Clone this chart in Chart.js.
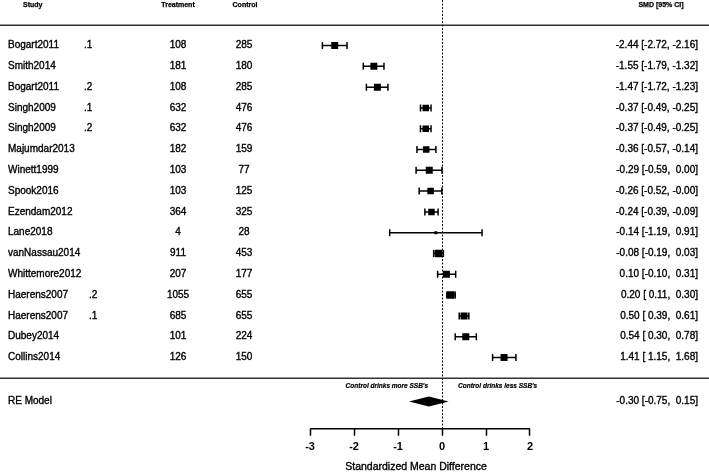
<!DOCTYPE html>
<html>
<head>
<meta charset="utf-8">
<script src="https://cdn.jsdelivr.net/npm/chart.js@4"></script>
<style>
  html, body { margin: 0; padding: 0; background: #fff; }
  canvas { display: block; }
</style>
</head>
<body>
<canvas id="forest" width="709" height="475"></canvas>
<script>
// =====================================================
// DATA
// =====================================================
const studies = ["Bogart2011", "Smith2014", "Bogart2011", "Singh2009", "Singh2009", "Majumdar2013",
    "Winett1999", "Spook2016", "Ezendam2012", "Lane2018", "vanNassau2014", "Whittemore2012",
    "Haerens2007", "Haerens2007", "Dubey2014", "Collins2014"];
const subLabels = [".1", "", ".2", ".1", ".2", "", "", "", "", "", "", "", ".2", ".1", "", ""];
const treatmentN = [108, 181, 108, 632, 632, 182, 103, 103, 364, 4, 911, 207, 1055, 685, 101, 126];
const controlN = [285, 180, 285, 476, 476, 159, 77, 125, 325, 28, 453, 177, 655, 655, 224, 150];
const smd = [-2.44, -1.55, -1.47, -0.37, -0.37, -0.36, -0.29, -0.26, -0.24, -0.14, -0.08, 0.10, 0.20, 0.50, 0.54, 1.41];
const ciLow = [-2.72, -1.79, -1.72, -0.49, -0.49, -0.57, -0.59, -0.52, -0.39, -1.19, -0.19, -0.10, 0.11, 0.39, 0.30, 1.15];
const ciHigh = [-2.16, -1.32, -1.23, -0.25, -0.25, -0.14, 0.00, -0.004, -0.09, 0.91, 0.03, 0.31, 0.30, 0.61, 0.78, 1.68];
// relative study weights (square size)
const weights = [7, 7, 7, 6.5, 6.5, 6.5, 7, 6.5, 6.5, 3, 7.5, 7, 7.5, 7, 7, 7];
const xTicks = [-3, -2, -1, 0, 1, 2];

const reLabel = "RE Model";
const reEst = -0.30, reLow = -0.75, reHigh = 0.15;

const FONT = "'Liberation Sans', Arial, sans-serif";
const RE_ROW = studies.length + 1.12;

function fmt(v) {
    return v.toFixed(2).padStart(5, " ");
}
function ciText(e, lo, hi) {
    return e.toFixed(2) + " [" + fmt(lo) + ", " + fmt(hi) + "]";
}
// slightly heavier text, like the reference render
function heavyText(ctx, t, x, y) {
    ctx.fillText(t, x, y);
    ctx.strokeText(t, x, y);
}

// =====================================================
// PLUGIN: whiskers, diamond, reference line, table text
// =====================================================
const forestPlugin = {
    id: 'forest',
    beforeDatasetsDraw(chart) {
        const { ctx, chartArea, scales: { x, y } } = chart;
        ctx.save();

        // null line
        ctx.strokeStyle = '#000';
        ctx.lineWidth = 1;
        ctx.setLineDash([2, 1.5]);
        ctx.beginPath();
        ctx.moveTo(x.getPixelForValue(0) + 0.5, chartArea.top);
        ctx.lineTo(x.getPixelForValue(0) + 0.5, chartArea.bottom);
        ctx.stroke();
        ctx.setLineDash([]);

        // CI whiskers
        ctx.lineWidth = 1.5;
        studies.forEach((s, i) => {
            const py = y.getPixelForValue(i);
            const x1 = x.getPixelForValue(ciLow[i]);
            const x2 = x.getPixelForValue(ciHigh[i]);
            ctx.beginPath();
            ctx.moveTo(x1, py);
            ctx.lineTo(x2, py);
            ctx.moveTo(x1, py - 3.5);
            ctx.lineTo(x1, py + 3.5);
            ctx.moveTo(x2, py - 3.5);
            ctx.lineTo(x2, py + 3.5);
            ctx.stroke();
        });

        // horizontal rules
        ctx.strokeStyle = '#333';
        ctx.lineWidth = 1.5;
        [-1, studies.length].forEach(r => {
            const py = Math.round(y.getPixelForValue(r)) + 0.25;
            ctx.beginPath();
            ctx.moveTo(chartArea.left, py);
            ctx.lineTo(chartArea.right, py);
            ctx.stroke();
        });

        // axis line between first and last tick
        ctx.strokeStyle = '#000';
        ctx.beginPath();
        ctx.moveTo(x.getPixelForValue(xTicks[0]), chartArea.bottom);
        ctx.lineTo(x.getPixelForValue(xTicks[xTicks.length - 1]), chartArea.bottom);
        ctx.stroke();

        // summary diamond
        const dy = y.getPixelForValue(RE_ROW);
        ctx.fillStyle = '#000';
        ctx.beginPath();
        ctx.moveTo(x.getPixelForValue(reLow), dy);
        ctx.lineTo(x.getPixelForValue(reEst), dy - 5);
        ctx.lineTo(x.getPixelForValue(reHigh), dy);
        ctx.lineTo(x.getPixelForValue(reEst), dy + 5);
        ctx.closePath();
        ctx.fill();
        ctx.restore();
    },
    afterDraw(chart) {
        const { ctx, chartArea, scales: { x, y } } = chart;
        ctx.save();
        ctx.fillStyle = '#000';
        ctx.strokeStyle = '#000';
        ctx.lineWidth = 0.35;
        ctx.textBaseline = 'middle';

        // headers
        const hy = 5.5;
        ctx.font = "bold 7px " + FONT;
        ctx.lineWidth = 0.25;
        ctx.textAlign = 'left';
        heavyText(ctx, "Study", 23, hy);
        ctx.textAlign = 'center';
        heavyText(ctx, "Treatment", 178, hy);
        heavyText(ctx, "Control", 245, hy);
        heavyText(ctx, "SMD [95% CI]", 661, hy);

        // study rows
        ctx.lineWidth = 0.35;
        ctx.font = "10px " + FONT;
        studies.forEach((s, i) => {
            const py = y.getPixelForValue(i);
            ctx.textAlign = 'left';
            heavyText(ctx, s, 8, py);
            if (subLabels[i]) heavyText(ctx, subLabels[i], s.startsWith("Haerens") ? 89 : 84, py);
            ctx.textAlign = 'center';
            heavyText(ctx, String(treatmentN[i]), 178, py);
            heavyText(ctx, String(controlN[i]), 244, py);
            ctx.textAlign = 'right';
            heavyText(ctx, ciText(smd[i], ciLow[i], ciHigh[i]), 698, py);
        });

        // RE model row
        const ry = y.getPixelForValue(RE_ROW);
        ctx.textAlign = 'left';
        heavyText(ctx, reLabel, 8, ry);
        ctx.textAlign = 'right';
        heavyText(ctx, ciText(reEst, reLow, reHigh), 698, ry);

        // direction labels
        const zx = x.getPixelForValue(0);
        const ly = y.getPixelForValue(studies.length + 0.38);
        ctx.font = "italic bold 6.5px " + FONT;
        ctx.lineWidth = 0.2;
        ctx.textAlign = 'right';
        heavyText(ctx, "Control drinks more SSB's", zx - 14, ly);
        ctx.textAlign = 'left';
        heavyText(ctx, "Control drinks less SSB's", zx + 16, ly);

        // axis title
        ctx.font = "10.5px " + FONT;
        ctx.lineWidth = 0.35;
        ctx.textAlign = 'center';
        const cx = (x.getPixelForValue(xTicks[0]) + x.getPixelForValue(xTicks[xTicks.length - 1])) / 2;
        heavyText(ctx, "Standardized Mean Difference", cx - 4, 467);
        ctx.restore();
    }
};

// =====================================================
// CHART
// =====================================================
new Chart(document.getElementById('forest'), {
    type: 'scatter',
    data: {
        datasets: [{
            data: smd.map((v, i) => ({ x: v, y: i })),
            pointStyle: 'rect',
            pointRadius: weights.map(w => w / Math.SQRT2),
            backgroundColor: '#000',
            borderWidth: 0
        }]
    },
    options: {
        responsive: false,
        animation: false,
        devicePixelRatio: 1,
        layout: { autoPadding: false, padding: { left: 0, right: 0, top: 0, bottom: 16 } },
        plugins: {
            legend: { display: false },
            tooltip: { enabled: false }
        },
        scales: {
            x: {
                type: 'linear',
                min: -10.05,
                max: 6.07,
                afterBuildTicks: axis => { axis.ticks = xTicks.map(v => ({ value: v })); },
                grid: { drawOnChartArea: false, drawTicks: true, tickLength: 7, color: '#000', tickWidth: 1.5 },
                border: { display: false },
                ticks: {
                    autoSkip: false,
                    maxRotation: 0,
                    padding: 5,
                    color: '#000',
                    font: { family: FONT, size: 11, weight: 'bold' }
                }
            },
            y: {
                type: 'linear',
                reverse: true,
                min: -2.19,
                max: 18.43,
                display: false
            }
        }
    },
    plugins: [forestPlugin]
});
</script>
</body>
</html>
